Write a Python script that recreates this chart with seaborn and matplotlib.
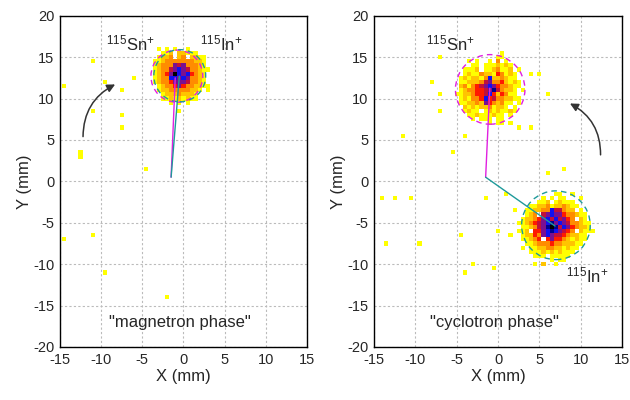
import matplotlib
matplotlib.use("Agg")
import matplotlib.pyplot as plt
import seaborn as sns
from matplotlib.colors import ListedColormap
from matplotlib.patches import Circle

# detector counts per 0.5 mm pixel, one digit per pixel, rows from top to bottom
MAG_GRID = [
    "0001010010000",
    "0011202211100",
    "0122302302210",
    "1123333333221",
    "1233365633321",
    "1233567653321",
    "1234697674321",
    "1233776763321",
    "1233466653321",
    "0123346433221",
    "0122333332210",
    "0012223222100",
    "0011212121100",
    "0000101010000",
]
MAG_ORIGIN = (-3.5, 16.0)

SN_GRID = [
    "00000000000100000",
    "00000000001100000",
    "00010100103010000",
    "00001101112121000",
    "00111201123112010",
    "00121132214312100",
    "01212213722321100",
    "01122235633421210",
    "02313456764332110",
    "01233445685322101",
    "11223445742431100",
    "01213347453322110",
    "01122326432311010",
    "00212122312210100",
    "00121101212112100",
    "00011211121101000",
    "00001011101100000",
    "00000000101000000",
]
SN_ORIGIN = (-5.0, 15.5)

IN_GRID = [
    "0000000001100100000",
    "0000001010110001000",
    "0000011201211100000",
    "0001122312232110000",
    "0011223375532201000",
    "0012305676643321100",
    "0122346757564302100",
    "1123456786765332110",
    "0112356898576432210",
    "1120446787654302111",
    "0122436765543221100",
    "0112340464432121100",
    "0011233343322211000",
    "0101122332212110000",
    "0001112121211100000",
    "0000111011111000000",
    "0000000010110000000",
    "0000001001000000000",
]
IN_ORIGIN = (2.5, -1.5)

# single stray hits
MAG_STRAY_X = [-14.5, -11, -9.5, -7.5, -6, -11, -7.5, -7.5, -12.5, -12.5, -4.5,
               -14.5, -11, -9.5, -2, -0.5, 2.5, 3, 3, -3, 3]
MAG_STRAY_Y = [11.5, 14.5, 12, 11, 12.5, 8.5, 8, 6.5, 3.5, 3, 1.5,
               -7, -6.5, -11, -14, 8.5, 15, 11.5, 11, 16, 13.5]
CYC_STRAY_X = [-7, -8, -7, -7, -11.5, -4, -5.5, -14, -12.5, -10.5, -1.5, 1,
               -13.5, -9.5, -4.5, -3, -4, -0.5, 0, 1.5, 2, 2.5, 4, 4, 5,
               6, 6, 8, 4.5, 5.5, 1.5, 0.5]
CYC_STRAY_Y = [15, 12, 10.5, 8.5, 5.5, 5.5, 3.5, -2, -2, -2, -2, -1.5,
               -7.5, -7.5, -6.5, -10, -11, -10.5, -6, -6.5, -3.5, 6.5, 6.5, 13, 13,
               10.5, 1, 1.5, -10, -10, 7, 7]

# fitted spot centres / radii and the vector origin
MAG_SN_CIRCLE = (-0.8, 12.7, 3.15)
MAG_IN_CIRCLE = (-0.45, 12.75, 3.15)
CYC_SN_CIRCLE = (-0.95, 11.1, 4.2)
CYC_IN_CIRCLE = (7.0, -5.3, 4.15)
CENTER = (-1.5, 0.5)
MAG_SN_END = (-1.0, 12.5)
MAG_IN_END = (-0.5, 12.7)
CYC_SN_END = (-1.0, 11.25)
CYC_IN_END = (6.9, -5.4)

COUNT_COLORS = ["#FFFF00", "#FFC400", "#FF8C00", "#FF1A00", "#C0103C",
                "#7A1090", "#1010F0", "#000090", "#000000"]
MAGENTA = "#E020E0"
TEAL = "#1E9A9A"


def grid_points(grid, origin):
    x0, y0 = origin
    xs, ys, ws = [], [], []
    for i, row in enumerate(grid):
        for j, ch in enumerate(row):
            if ch != "0":
                xs.append(x0 + 0.5 * j)
                ys.append(y0 - 0.5 * i)
                ws.append(int(ch))
    return xs, ys, ws


def draw_panel(ax, grids, stray_x, stray_y, circles, ends, labels, phase, arrow):
    xs, ys, ws = list(stray_x), list(stray_y), [1] * len(stray_x)
    for grid, origin in grids:
        gx, gy, gw = grid_points(grid, origin)
        xs += gx
        ys += gy
        ws += gw

    cmap = ListedColormap(COUNT_COLORS)
    sns.histplot(x=xs, y=ys, weights=ws, binwidth=0.5,
                 binrange=((-15.25, 15.25), (-20.25, 20.25)),
                 cmap=cmap, vmin=0.5, vmax=len(COUNT_COLORS) + 0.5,
                 antialiased=False, linewidth=0, ax=ax, zorder=2)

    for (cx, cy, r), col in zip(circles, [MAGENTA, TEAL]):
        ax.add_patch(Circle((cx, cy), r, fill=False, edgecolor=col, lw=1.0,
                            linestyle=(0, (4, 3)), zorder=3))
    for (ex, ey), col in zip(ends, [MAGENTA, TEAL]):
        ax.plot([CENTER[0], ex], [CENTER[1], ey], color=col, lw=1.0, zorder=4)

    for (tx, ty, txt) in labels:
        ax.text(tx, ty, txt, ha="left", va="center", fontsize=12, zorder=5)
    ax.text(-0.4, -17.0, phase, ha="center", va="center", fontsize=12)

    tail, head, rad = arrow
    ax.annotate("", xy=head, xytext=tail,
                arrowprops=dict(arrowstyle="-|>", connectionstyle=f"arc3,rad={rad}",
                                color="#333333", lw=1.1, mutation_scale=12,
                                shrinkA=0, shrinkB=0))

    ax.set_xlim(-15, 15)
    ax.set_ylim(-20, 20)
    ax.set_xticks(range(-15, 16, 5))
    ax.set_yticks(range(-20, 21, 5))
    ax.set_axisbelow(True)
    ax.grid(True, color="#bbbbbb", linestyle=(0, (2, 2)), lw=0.8)
    ax.tick_params(direction="in", length=4, width=1, labelsize=10.5,
                   top=False, right=False, pad=4)
    for sp in ax.spines.values():
        sp.set_visible(True)
        sp.set_color("black")
        sp.set_linewidth(1.0)
    ax.set_xlabel("X (mm)", fontsize=12, labelpad=2)
    ax.set_ylabel("Y (mm)", fontsize=12, labelpad=1)


sns.set_theme(style="white")
plt.rcParams["font.family"] = ["Liberation Sans", "DejaVu Sans"]
plt.rcParams["mathtext.fontset"] = "custom"
plt.rcParams["mathtext.rm"] = "Liberation Sans"
plt.rcParams["mathtext.it"] = "Liberation Sans"
plt.rcParams["axes.unicode_minus"] = False

fig = plt.figure(figsize=(6.3, 4.0), dpi=100)
ax1 = fig.add_axes([0.0952, 0.1325, 0.392, 0.8283])
ax2 = fig.add_axes([0.5937, 0.1325, 0.3937, 0.8283])

sn_label = r"$^{115}$Sn$^{+}$"
in_label = r"$^{115}$In$^{+}$"

draw_panel(ax1, [(MAG_GRID, MAG_ORIGIN)], MAG_STRAY_X, MAG_STRAY_Y,
           [MAG_SN_CIRCLE, MAG_IN_CIRCLE], [MAG_SN_END, MAG_IN_END],
           [(-9.4, 16.6, sn_label), (2.0, 16.6, in_label)],
           '"magnetron phase"', ((-12.2, 5.4), (-8.3, 11.7), -0.3))
draw_panel(ax2, [(SN_GRID, SN_ORIGIN), (IN_GRID, IN_ORIGIN)], CYC_STRAY_X, CYC_STRAY_Y,
           [CYC_SN_CIRCLE, CYC_IN_CIRCLE], [CYC_SN_END, CYC_IN_END],
           [(-8.7, 16.7, sn_label), (8.2, -11.4, in_label)],
           '"cyclotron phase"', ((12.4, 3.2), (8.7, 9.4), 0.3))

fig.savefig("out.png", dpi=100)
plt.close(fig)
